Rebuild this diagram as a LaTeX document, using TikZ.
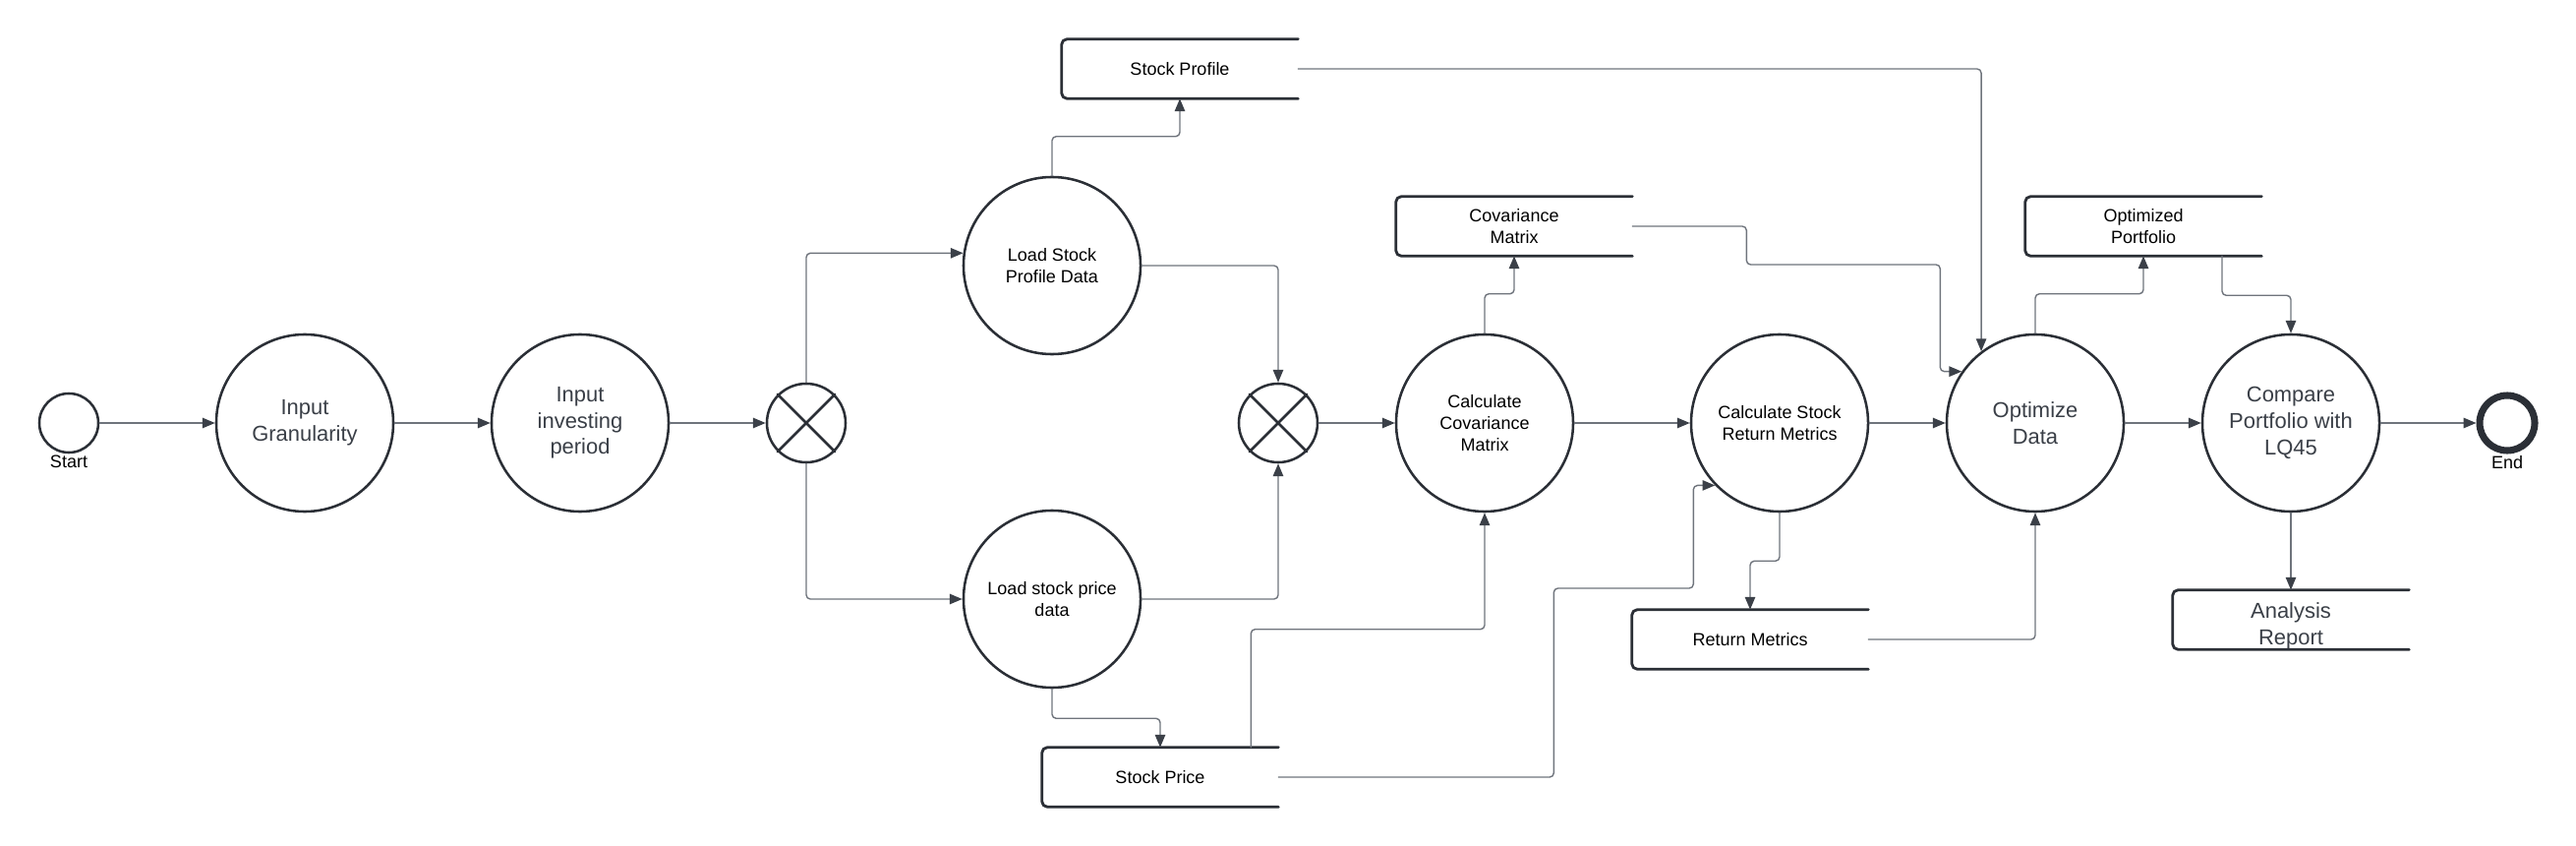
\documentclass[tikz,border=0pt]{standalone}
\usepackage{fontspec}
\setmainfont{Liberation Sans}
\usetikzlibrary{arrows.meta,positioning}

\definecolor{shapeline}{HTML}{2B2F36}
\definecolor{flowline}{HTML}{6F747C}
\definecolor{tipcol}{HTML}{3B4048}
\definecolor{bigtext}{HTML}{3A3F47}

\newcommand{\smallfnt}{\fontsize{12.8pt}{15.5pt}\selectfont}
\newcommand{\bigfnt}{\fontsize{15.6pt}{19pt}\selectfont}

\tikzset{
  proc/.style={circle, draw=shapeline, line width=1.8pt, minimum size=4.5cm, inner sep=0pt, align=center, font=\smallfnt},
  bigtxt/.style={font=\bigfnt, text=bigtext},
  gateway/.style={circle, draw=shapeline, line width=1.8pt, minimum size=2cm, inner sep=0pt},
  evt/.style={circle, draw=shapeline, line width=1.8pt, minimum size=1.5cm, inner sep=0pt},
  datastore/.style={rectangle, minimum width=6cm, minimum height=1.5cm, inner sep=0pt, align=center, font=\smallfnt},
  storeline/.style={draw=shapeline, line width=2pt, rounded corners=4pt},
  flow/.style={draw=flowline, line width=1pt, rounded corners=3pt, -{Triangle[length=0.32cm, width=0.26cm, color=tipcol]}},
  lbl/.style={font=\smallfnt, inner sep=1pt},
}

\begin{document}
\begin{tikzpicture}[x=0.025cm, y=-0.025cm, line cap=round, line join=round]
    \useasboundingbox (0,0) rectangle (2620,860);

    % --- 1. Start and inputs ---
    \node[evt] (start) at (70,430) {};
    \node[lbl, below=0pt of start] (startlbl) {Start};
    \node[proc, bigtxt] (gran) at (310,430) {Input\\Granularity};
    \node[proc, bigtxt] (invest) at (590,430) {Input\\investing\\period};

    % --- 2. Split, load data, join ---
    \node[gateway] (gw1) at (820,430) {};
    \node[proc] (lprof) at (1070,270) {Load Stock\\Profile Data};
    \node[proc] (lprice) at (1070,609) {Load stock price\\data};
    \node[gateway] (gw2) at (1300,430) {};
    \foreach \g in {gw1,gw2}
        \draw[shapeline, line width=1.8pt] (\g.north west) -- (\g.south east)
            (\g.north east) -- (\g.south west);

    % --- 3. Calculations ---
    \node[proc] (cov) at (1510,430) {Calculate\\Covariance\\Matrix};
    \node[proc] (retc) at (1810,430) {Calculate Stock\\Return Metrics};
    \node[proc, bigtxt] (opt) at (2070,430) {Optimize\\Data};
    \node[proc, bigtxt] (cmp) at (2330,430) {Compare\\Portfolio with\\LQ45};
    \node[evt, line width=5pt, minimum size=1.4cm] (finish) at (2550,430) {};
    \node[lbl, below=0pt of finish] (finishlbl) {End};

    % --- 4. Data stores (open on the right) ---
    \node[datastore] (sprof) at (1200,70) {Stock Profile};
    \node[datastore] (sprice) at (1180,790) {Stock Price};
    \node[datastore] (cmat) at (1540,230) {Covariance\\Matrix};
    \node[datastore] (rmet) at (1780,650) {Return Metrics};
    \node[datastore] (opor) at (2180,230) {Optimized\\Portfolio};
    \node[datastore, bigtxt] (arep) at (2330,630) {\rule{0pt}{0.7cm}Analysis\\Report};
    \foreach \s in {sprof,sprice,cmat,rmet,opor,arep}
        \draw[storeline] (\s.north east) -- (\s.north west) -- (\s.south west) -- (\s.south east);

    % --- 5. Main flow ---
    \draw[flow] (start) -- (gran);
    \draw[flow] (gran) -- (invest);
    \draw[flow] (invest) -- (gw1);
    \draw[flow] (gw1.north) |- (lprof.172);
    \draw[flow] (gw1.south) |- (lprice.west);
    \draw[flow] (lprof.east) -| (gw2.north);
    \draw[flow] (lprice.east) -| (gw2.south);
    \draw[flow] (gw2) -- (cov);
    \draw[flow] (cov) -- (retc);
    \draw[flow] (retc) -- (opt);
    \draw[flow] (opt) -- (cmp);
    \draw[flow] (cmp) -- (finish);

    % --- 6. Data flows ---
    \draw[flow] (lprof.north) -- ++(0,-40) -| (sprof.south);
    \draw[flow] (lprice.south) -- ++(0,30) -| (sprice.north);
    \draw[flow] ([xshift=-0.7cm]sprice.north east) -- ++(0,-120) -| (cov.south);
    \draw[flow] (sprice.east) -- ++(280,0) -- ++(0,-192) -- ++(142,0) |- (retc.224);
    \draw[flow] (cov.north) -- ++(0,-40) -| (cmat.south);
    \draw[flow] (cmat.east) -- ++(116,0) -- ++(0,39) -- ++(197,0) |- (opt.145);
    \draw[flow] (sprof.east) -| (opt.127);
    \draw[flow] (retc.south) -- ++(0,49) -| (rmet.north);
    \draw[flow] (rmet.east) -| (opt.south);
    \draw[flow] (opt.north) -- ++(0,-40) -| (opor.south);
    \draw[flow] ([xshift=2cm]opor.south) -- ++(0,40) -| (cmp.north);
    \draw[flow] (cmp.south) -- (arep.north);
\end{tikzpicture}
\end{document}
